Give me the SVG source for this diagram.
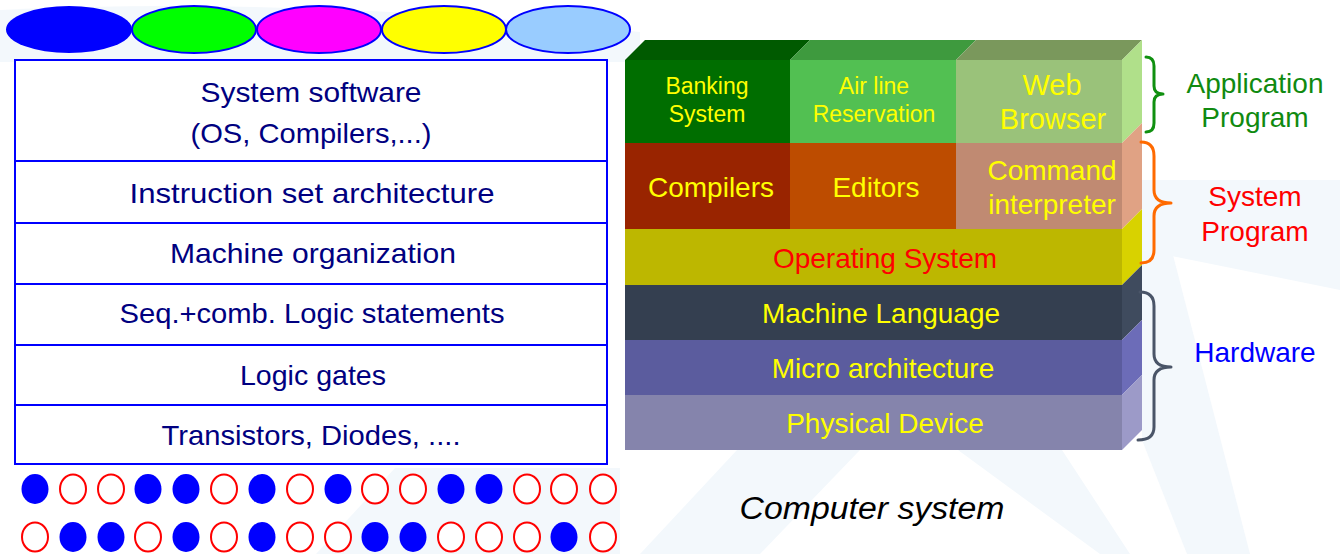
<svg xmlns="http://www.w3.org/2000/svg" width="1340" height="554" viewBox="0 0 1340 554">
  <style>
    .hand { font-family: "Liberation Sans", "DejaVu Sans", sans-serif; font-size: 28px; fill: #000080; text-anchor: middle; }
    .blk { font-family: "Liberation Sans", Arial, sans-serif; fill: #ffff00; text-anchor: middle; }
    .lbl { font-family: "Liberation Sans", Arial, sans-serif; font-size: 28px; text-anchor: middle; }
    .row { fill: #ffffff; stroke: #0000ff; stroke-width: 2; }
    .bit1 { fill: #0000ff; }
    .bit0 { fill: #ffffff; stroke: #ff0000; stroke-width: 2; }
    .oval { stroke: #0000ff; stroke-width: 2; }
    .brace { fill: none; stroke-width: 3; stroke-linecap: round; stroke-linejoin: round; }
    .wm { fill: #f3f8fc; }
  </style>

  <rect width="1340" height="554" fill="#ffffff"/>

  <!-- faint background watermark -->
  <g id="watermark">
    <path class="wm" d="M0,10 Q300,-4 640,32 L640,62 L0,62 Z"/>
    <polygon class="wm" points="316,554 395,468 620,468 620,554"/>
    <polygon class="wm" points="640,554 737,450 860,450 760,554"/>
    <polygon class="wm" points="958,450 1062,450 1130,554 1100,554"/>
    <polygon class="wm" points="1142,250 1340,290 1340,180 1142,180"/>
    <polygon class="wm" points="1142,440 1187,554 1250,554 1173,255 1142,250"/>
  </g>

  <!-- colour ovals -->
  <g id="ovals">
    <ellipse cx="69" cy="29.5" rx="63" ry="23.5" fill="#0000ff"/>
    <ellipse class="oval" cx="194" cy="29.5" rx="62" ry="23.5" fill="#00ff00"/>
    <ellipse class="oval" cx="319" cy="29.5" rx="62" ry="23.5" fill="#ff00ff"/>
    <ellipse class="oval" cx="444" cy="29.5" rx="62" ry="23.5" fill="#ffff00"/>
    <ellipse class="oval" cx="568" cy="29.5" rx="62" ry="23.5" fill="#99ccff"/>
  </g>

  <!-- left abstraction stack -->
  <g id="left-sys-software">
    <rect class="row" x="15" y="60" width="592" height="101"/>
    <text class="hand" x="311" y="102" textLength="221" lengthAdjust="spacingAndGlyphs">System software</text>
    <text class="hand" x="311" y="143" textLength="241" lengthAdjust="spacingAndGlyphs">(OS, Compilers,...)</text>
  </g>
  <g id="left-isa">
    <rect class="row" x="15" y="161" width="592" height="62"/>
    <text class="hand" x="312" y="203" textLength="365" lengthAdjust="spacingAndGlyphs">Instruction set architecture</text>
  </g>
  <g id="left-org">
    <rect class="row" x="15" y="223" width="592" height="61"/>
    <text class="hand" x="313" y="263" textLength="286" lengthAdjust="spacingAndGlyphs">Machine organization</text>
  </g>
  <g id="left-logic">
    <rect class="row" x="15" y="284" width="592" height="61"/>
    <text class="hand" x="312" y="323" textLength="385" lengthAdjust="spacingAndGlyphs">Seq.+comb. Logic statements</text>
  </g>
  <g id="left-gates">
    <rect class="row" x="15" y="345" width="592" height="60"/>
    <text class="hand" x="313" y="385" textLength="146" lengthAdjust="spacingAndGlyphs">Logic gates</text>
  </g>
  <g id="left-devices">
    <rect class="row" x="15" y="405" width="592" height="59"/>
    <text class="hand" x="311" y="445" textLength="299" lengthAdjust="spacingAndGlyphs">Transistors, Diodes, ....</text>
  </g>

  <!-- binary dots: 1001101010011000 / 0110101001100010 -->
  <g id="bits">
    <ellipse class="bit1" cx="35" cy="489" rx="13.5" ry="15"/>
    <ellipse class="bit0" cx="73" cy="489" rx="13" ry="14.5"/>
    <ellipse class="bit0" cx="111" cy="489" rx="13" ry="14.5"/>
    <ellipse class="bit1" cx="148" cy="489" rx="13.5" ry="15"/>
    <ellipse class="bit1" cx="186" cy="489" rx="13.5" ry="15"/>
    <ellipse class="bit0" cx="224" cy="489" rx="13" ry="14.5"/>
    <ellipse class="bit1" cx="262" cy="489" rx="13.5" ry="15"/>
    <ellipse class="bit0" cx="300" cy="489" rx="13" ry="14.5"/>
    <ellipse class="bit1" cx="338" cy="489" rx="13.5" ry="15"/>
    <ellipse class="bit0" cx="375" cy="489" rx="13" ry="14.5"/>
    <ellipse class="bit0" cx="413" cy="489" rx="13" ry="14.5"/>
    <ellipse class="bit1" cx="451" cy="489" rx="13.5" ry="15"/>
    <ellipse class="bit1" cx="489" cy="489" rx="13.5" ry="15"/>
    <ellipse class="bit0" cx="527" cy="489" rx="13" ry="14.5"/>
    <ellipse class="bit0" cx="564" cy="489" rx="13" ry="14.5"/>
    <ellipse class="bit0" cx="603" cy="489" rx="13" ry="14.5"/>

    <ellipse class="bit0" cx="35" cy="537" rx="13" ry="14.5"/>
    <ellipse class="bit1" cx="73" cy="537" rx="13.5" ry="15"/>
    <ellipse class="bit1" cx="111" cy="537" rx="13.5" ry="15"/>
    <ellipse class="bit0" cx="148" cy="537" rx="13" ry="14.5"/>
    <ellipse class="bit1" cx="186" cy="537" rx="13.5" ry="15"/>
    <ellipse class="bit0" cx="224" cy="537" rx="13" ry="14.5"/>
    <ellipse class="bit1" cx="262" cy="537" rx="13.5" ry="15"/>
    <ellipse class="bit0" cx="300" cy="537" rx="13" ry="14.5"/>
    <ellipse class="bit0" cx="338" cy="537" rx="13" ry="14.5"/>
    <ellipse class="bit1" cx="375" cy="537" rx="13.5" ry="15"/>
    <ellipse class="bit1" cx="413" cy="537" rx="13.5" ry="15"/>
    <ellipse class="bit0" cx="451" cy="537" rx="13" ry="14.5"/>
    <ellipse class="bit0" cx="489" cy="537" rx="13" ry="14.5"/>
    <ellipse class="bit0" cx="527" cy="537" rx="13" ry="14.5"/>
    <ellipse class="bit1" cx="564" cy="537" rx="13.5" ry="15"/>
    <ellipse class="bit0" cx="603" cy="537" rx="13" ry="14.5"/>
  </g>

  <!-- right: layered computer system block -->
  <g id="block-top">
    <polygon points="625,60 645,40 810,40 790,60" fill="#005a00"/>
    <polygon points="790,60 810,40 976,40 956,60" fill="#3e9a3e"/>
    <polygon points="956,60 976,40 1142,40 1122,60" fill="#7a985c"/>
  </g>
  <g id="block-side">
    <polygon points="1122,60 1142,40 1142,123 1122,143" fill="#b0e08a"/>
    <polygon points="1122,143 1142,123 1142,209 1122,229" fill="#e0a284"/>
    <polygon points="1122,229 1142,209 1142,265 1122,285" fill="#d8d200"/>
    <polygon points="1122,285 1142,265 1142,320 1122,340" fill="#3f4b5e"/>
    <polygon points="1122,340 1142,320 1142,375 1122,395" fill="#6c6cb8"/>
    <polygon points="1122,395 1142,375 1142,430 1122,450" fill="#9c9ac8"/>
  </g>

  <g id="banking">
    <rect x="625" y="60" width="165" height="83" fill="#006e00"/>
    <text class="blk" x="707" y="94" font-size="23">Banking</text>
    <text class="blk" x="707" y="122" font-size="23">System</text>
  </g>
  <g id="airline">
    <rect x="790" y="60" width="166" height="83" fill="#52c052"/>
    <text class="blk" x="874" y="94" font-size="23">Air line</text>
    <text class="blk" x="874" y="122" font-size="23">Reservation</text>
  </g>
  <g id="browser">
    <rect x="956" y="60" width="166" height="83" fill="#9ac27a"/>
    <text class="blk" x="1052" y="95" font-size="29">Web</text>
    <text class="blk" x="1053" y="129" font-size="29">Browser</text>
  </g>
  <g id="compilers">
    <rect x="625" y="143" width="165" height="86" fill="#992400"/>
    <text class="blk" x="711" y="197" font-size="28">Compilers</text>
  </g>
  <g id="editors">
    <rect x="790" y="143" width="166" height="86" fill="#bd4c00"/>
    <text class="blk" x="876" y="197" font-size="28">Editors</text>
  </g>
  <g id="command">
    <rect x="956" y="143" width="166" height="86" fill="#c08a72"/>
    <text class="blk" x="1052" y="180" font-size="28">Command</text>
    <text class="blk" x="1052" y="214" font-size="28">interpreter</text>
  </g>
  <g id="os">
    <rect x="625" y="229" width="497" height="56" fill="#bdb700"/>
    <text class="blk" x="885" y="268" font-size="28" style="fill:#ff0000">Operating System</text>
  </g>
  <g id="machine-language">
    <rect x="625" y="285" width="497" height="55" fill="#343f50"/>
    <text class="blk" x="881" y="323" font-size="28">Machine Language</text>
  </g>
  <g id="micro-arch">
    <rect x="625" y="340" width="497" height="55" fill="#5b5c9e"/>
    <text class="blk" x="883" y="378" font-size="28">Micro architecture</text>
  </g>
  <g id="physical">
    <rect x="625" y="395" width="497" height="55" fill="#8584ac"/>
    <text class="blk" x="885" y="433" font-size="28">Physical Device</text>
  </g>

  <!-- grouping braces -->
  <g id="connectors">
    <path class="brace" stroke="#109010" d="M1146,57 Q1154,57 1154,66 L1154,86 Q1154,94 1163,94 Q1154,94 1154,102 L1154,123 Q1154,132 1146,132"/>
    <path class="brace" stroke="#ff6a00" d="M1141,142 Q1154,142 1154,156 L1154,190 Q1154,203 1171,203 Q1154,203 1154,216 L1154,250 Q1154,263 1141,263"/>
    <path class="brace" stroke="#4a5568" d="M1140,292 Q1154,292 1154,306 L1154,354 Q1154,367 1171,367 Q1154,367 1154,380 L1154,427 Q1154,440 1138,440"/>
  </g>

  <g id="label-app">
    <text class="lbl" x="1255" y="93" fill="#108a10">Application</text>
    <text class="lbl" x="1255" y="127" fill="#108a10">Program</text>
  </g>
  <g id="label-sys">
    <text class="lbl" x="1255" y="206" fill="#ff0000">System</text>
    <text class="lbl" x="1255" y="241" fill="#ff0000">Program</text>
  </g>
  <g id="label-hw">
    <text class="lbl" x="1255" y="362" fill="#0000ff">Hardware</text>
  </g>

  <g id="caption">
    <text x="872" y="519" font-family="'Liberation Sans', Arial, sans-serif" font-size="31" font-style="italic" fill="#000000" text-anchor="middle" textLength="265" lengthAdjust="spacingAndGlyphs">Computer system</text>
  </g>
</svg>
